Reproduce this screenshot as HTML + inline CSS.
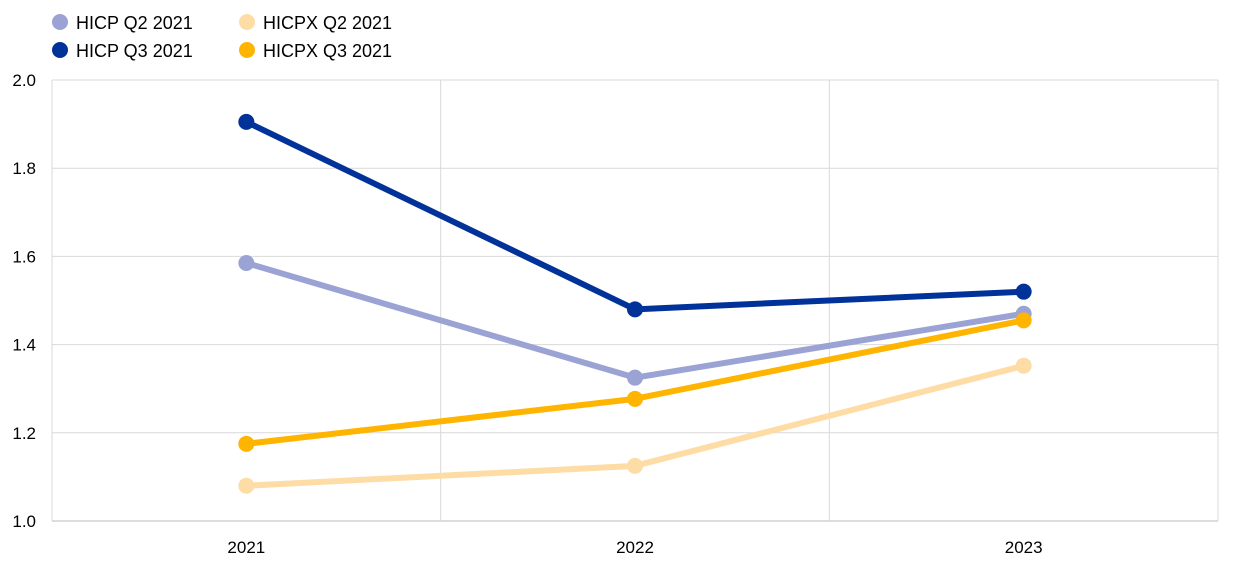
<!DOCTYPE html>
<html><head><meta charset="utf-8"><style>
body{margin:0;background:#fff;}
svg{display:block;font-family:"Liberation Sans",Arial,sans-serif;}
</style></head><body>
<svg id="chart" width="1240" height="571">
<g id="grid"></g>
<g id="axes"></g>
<g id="series"></g>
<g id="legend"></g>
</svg>
<script>
const categories = ["2021","2022","2023"];
const hicpQ2 = [1.585, 1.325, 1.47];
const hicpQ3 = [1.905, 1.48, 1.52];
const hicpxQ2 = [1.08, 1.125, 1.352];
const hicpxQ3 = [1.175, 1.277, 1.455];
const yTicks = [1.0, 1.2, 1.4, 1.6, 1.8, 2.0];
const seriesNames = ["HICP Q2 2021","HICP Q3 2021","HICPX Q2 2021","HICPX Q3 2021"];

const NS="http://www.w3.org/2000/svg";
const L=52,R=1218,T=80,B=521,yMin=1.0,yMax=2.0;
const band=(R-L)/categories.length;
const x=i=>L+band*(i+0.5);
const y=v=>B-(v-yMin)/(yMax-yMin)*(B-T);
function mk(tag,attrs,parent){const e=document.createElementNS(NS,tag);for(const k in attrs)e.setAttribute(k,attrs[k]);parent.appendChild(e);return e;}
const grid=document.getElementById('grid'),axes=document.getElementById('axes'),ser=document.getElementById('series'),leg=document.getElementById('legend');
yTicks.forEach(t=>{
  const ln=mk('line',{x1:L,x2:R,y1:y(t),y2:y(t),stroke:t===yMin?'#bbb':'#d9d9d9','stroke-width':1},grid);
  
  
  const tx=mk('text',{x:L-16,y:y(t)+6,'text-anchor':'end','font-size':17,fill:'#000'},axes);
  tx.textContent=t.toFixed(1);
  
  
});
for(let i=0;i<=categories.length;i++){
  const ln=mk('line',{x1:L+band*i,x2:L+band*i,y1:T,y2:B,stroke:'#d9d9d9','stroke-width':1},grid);
  
  
}
categories.forEach((c,i)=>{
  const tx=mk('text',{x:x(i),y:B+32,'text-anchor':'middle','font-size':17,fill:'#000'},axes);
  tx.textContent=c;
  
  
});
const data=[hicpxQ2,hicpQ2,hicpxQ3,hicpQ3];
const cols=['#fddca5','#9ba3d4','#ffb400','#003299'];
const names=['hicpx-q2-series','hicp-q2-series','hicpx-q3-series','hicp-q3-series'];
data.forEach((d,s)=>{
  const g=mk('g',{},ser);
  
  
  const p=mk('polyline',{points:d.map((v,i)=>x(i)+','+y(v)).join(' '),fill:'none',stroke:cols[s],'stroke-width':6,'stroke-linejoin':'round'},g);
  
  
  d.forEach((v,i)=>{
    const c=mk('circle',{cx:x(i),cy:y(v),r:8,fill:cols[s]},g);
    
    
  });
});
const legPos=[[60,22,'#9ba3d4'],[60,50,'#003299'],[247,22,'#fddca5'],[247,50,'#ffb400']];
seriesNames.forEach((n,i)=>{
  const [lx,ly,c]=legPos[i];
  const g=mk('g',{},leg);
  
  
  mk('circle',{cx:lx,cy:ly,r:8,fill:c},g);
  const t=mk('text',{x:lx+16,y:ly+7,'font-size':18,fill:'#000'},g);
  t.textContent=n;
});
</script>
</body></html>
